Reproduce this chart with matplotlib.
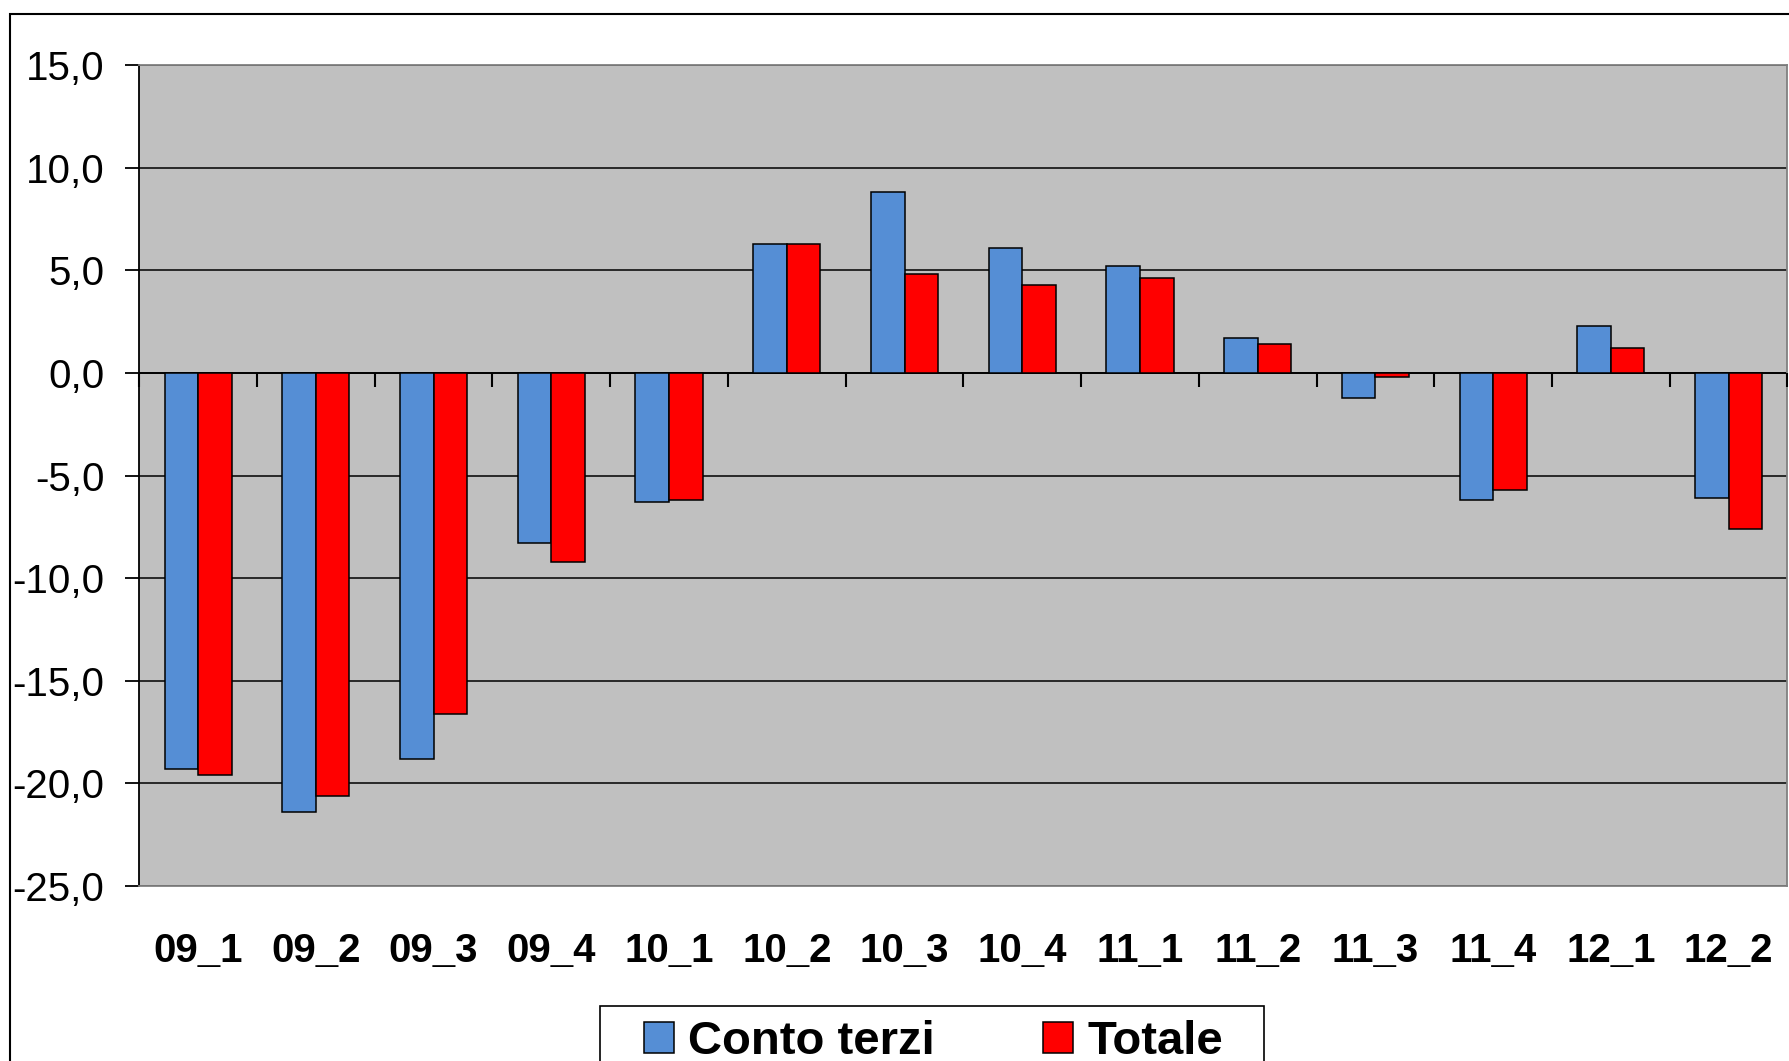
import matplotlib.pyplot as plt
from matplotlib.patches import Rectangle
from matplotlib.ticker import FuncFormatter
import numpy as np

plt.rcParams['font.family'] = ['Liberation Sans', 'DejaVu Sans']

categories = ['09_1', '09_2', '09_3', '09_4', '10_1', '10_2', '10_3',
              '10_4', '11_1', '11_2', '11_3', '11_4', '12_1', '12_2']
conto_terzi = [-19.3, -21.4, -18.8, -8.3, -6.3, 6.3, 8.8,
               6.1, 5.2, 1.7, -1.2, -6.2, 2.3, -6.1]
totale = [-19.6, -20.6, -16.6, -9.2, -6.2, 6.3, 4.8,
          4.3, 4.6, 1.4, -0.2, -5.7, 1.2, -7.6]

fig = plt.figure(figsize=(17.9, 10.61), dpi=100)
ax = fig.add_axes([0.0778, 0.1649, 0.9208, 0.7738])
ax.set_facecolor('#C0C0C0')

x = np.arange(len(categories))
w = 0.285
ax.bar(x - w / 2, conto_terzi, w, color='#558ED5', edgecolor='black',
       linewidth=1.1, zorder=3, label='Conto terzi')
ax.bar(x + w / 2, totale, w, color='#FF0000', edgecolor='black',
       linewidth=1.1, zorder=3, label='Totale')

ax.set_xlim(-0.5, len(categories) - 0.5)
ax.set_ylim(-25, 15)
ax.set_yticks(np.arange(-25, 16, 5))
ax.yaxis.set_major_formatter(FuncFormatter(lambda v, p: f'{v:.1f}'.replace('.', ',')))
ax.yaxis.grid(True, color='black', linewidth=1.1)
ax.set_axisbelow(True)

# asse dello zero con tacche tra le categorie
ax.axhline(0, color='black', linewidth=1.3, zorder=2.5)
bounds = np.arange(-0.5, len(categories), 1.0)
ax.plot(bounds, np.zeros_like(bounds), linestyle='none', marker=3,
        markersize=10, markeredgewidth=1.5, color='black', zorder=2.6,
        clip_on=False)

ax.set_xticks(x)
ax.set_xticklabels(categories, fontweight='bold')
ax.tick_params(axis='x', length=0, pad=33, labelsize=29)
ax.tick_params(axis='y', length=10, width=1.3, pad=15, labelsize=29)

for s in ['top', 'right', 'bottom']:
    ax.spines[s].set_color('#808080')
    ax.spines[s].set_linewidth(1.3)
ax.spines['left'].set_color('black')
ax.spines['left'].set_linewidth(1.3)

# cornice esterna del grafico
fig.add_artist(Rectangle((0.0056, -0.05), 1.1, 1.037, transform=fig.transFigure,
                         fill=False, edgecolor='black', linewidth=1.5))
# riquadro della legenda
fig.add_artist(Rectangle((600 / 1790, -0.1), 664 / 1790, 0.1518,
                         transform=fig.transFigure, facecolor='white',
                         edgecolor='black', linewidth=1.2, zorder=3))

fig.legend(loc='center', bbox_to_anchor=(0.5215, 0.018), ncol=2, frameon=False,
           prop={'weight': 'bold', 'size': 34}, handlelength=0.63,
           handleheight=0.63, handletextpad=0.3, columnspacing=2.3)

fig.savefig('out.png', dpi=100)
